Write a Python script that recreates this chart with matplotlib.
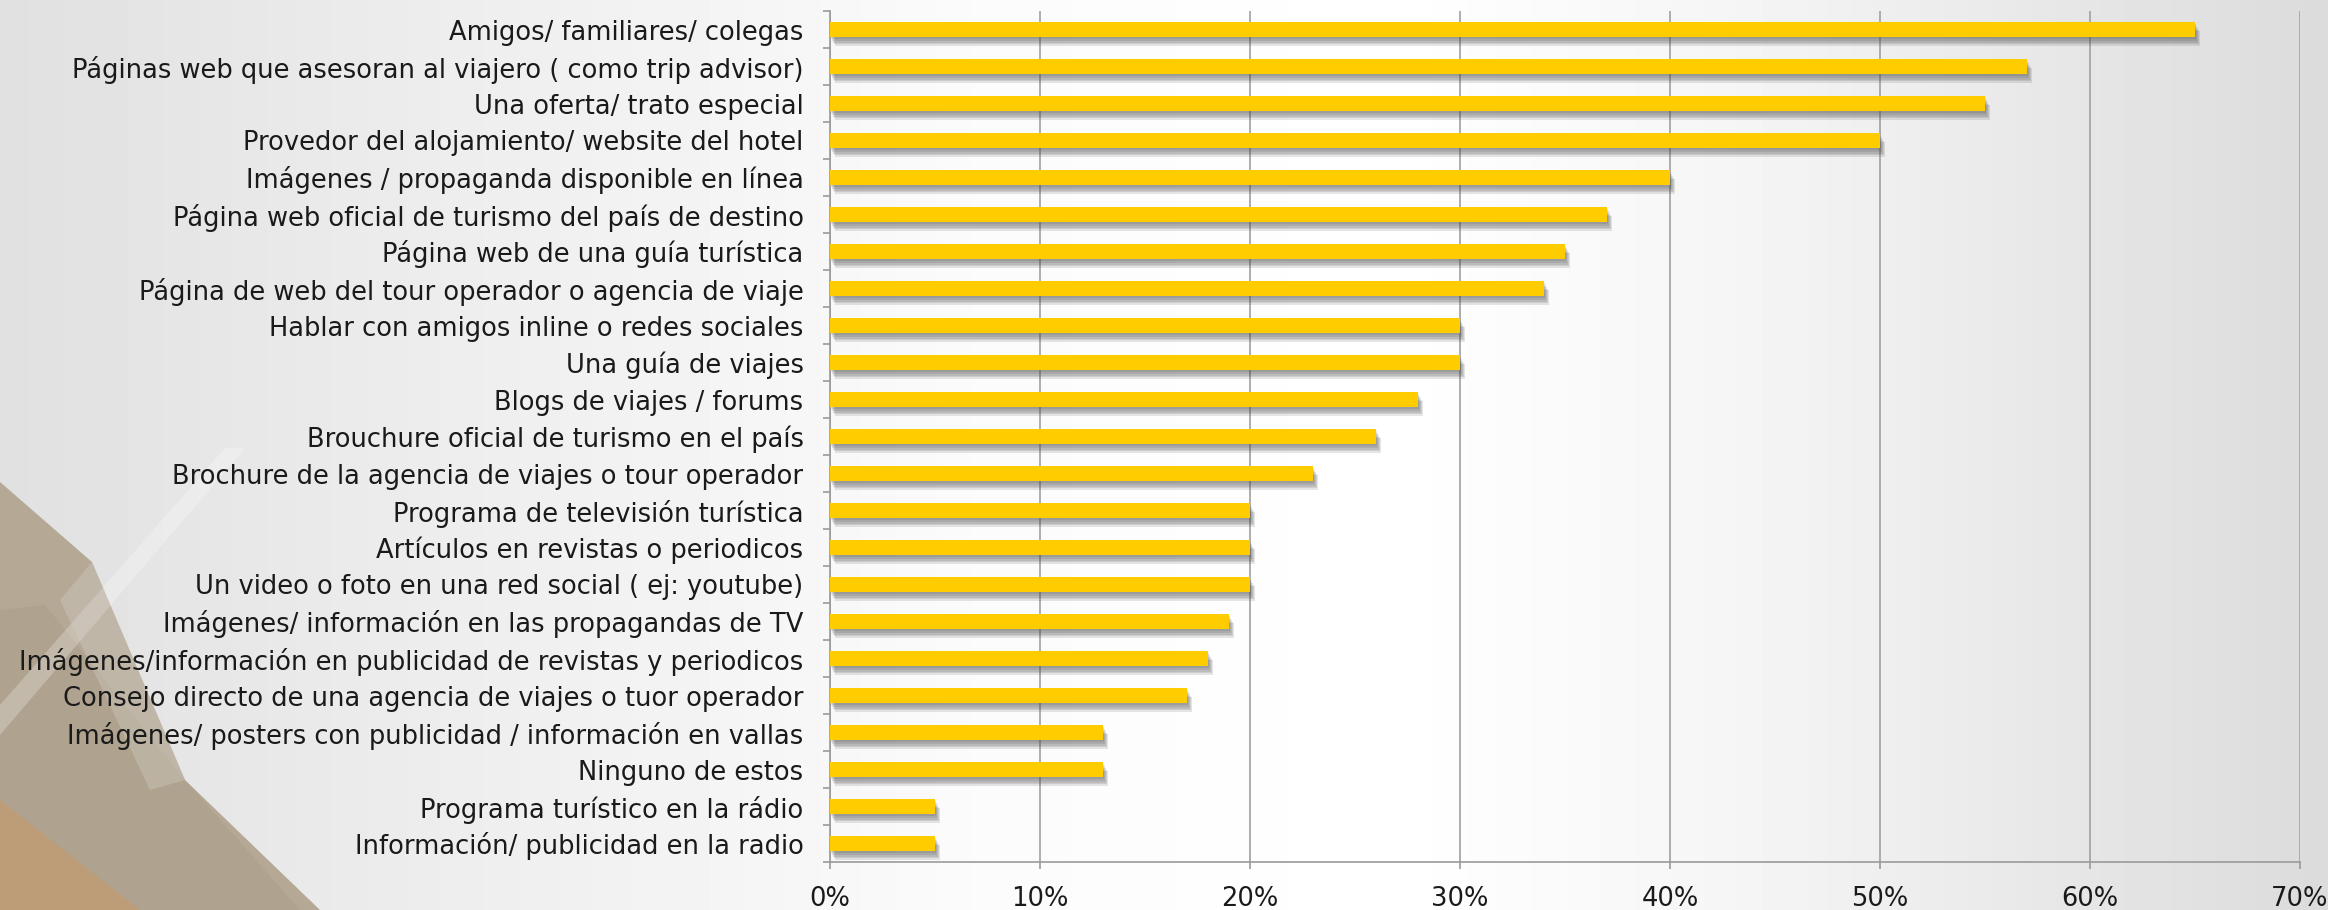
import numpy as np
import matplotlib
matplotlib.use("Agg")
import matplotlib.pyplot as plt
from matplotlib import patheffects as pe
from matplotlib.patches import Polygon
from matplotlib.ticker import FixedLocator, PercentFormatter

plt.rcParams['font.family'] = ['DejaVu Sans']

# fuentes de información, de arriba hacia abajo
categorias = [
    "Amigos/ familiares/ colegas",
    "Páginas web que asesoran al viajero ( como trip advisor)",
    "Una oferta/ trato especial",
    "Provedor del alojamiento/ website del hotel",
    "Imágenes / propaganda disponible en línea",
    "Página web oficial de turismo del país de destino",
    "Página web de una guía turística",
    "Página de web del tour operador o agencia de viaje",
    "Hablar con amigos inline o redes sociales",
    "Una guía de viajes",
    "Blogs de viajes / forums",
    "Brouchure oficial de turismo en el país",
    "Brochure de la agencia de viajes o tour operador",
    "Programa de televisión turística",
    "Artículos en revistas o periodicos",
    "Un video o foto en una red social ( ej: youtube)",
    "Imágenes/ información en las propagandas de TV",
    "Imágenes/información en publicidad de revistas y periodicos",
    "Consejo directo de una agencia de viajes o tuor operador",
    "Imágenes/ posters con publicidad / información en vallas",
    "Ninguno de estos",
    "Programa turístico en la rádio",
    "Información/ publicidad en la radio",
]
porcentajes = [65, 57, 55, 50, 40, 37, 35, 34, 30, 30, 28, 26, 23,
               20, 20, 20, 19, 18, 17, 13, 13, 5, 5]

W, H = 2328, 910
fig = plt.figure(figsize=(W / 100, H / 100), dpi=100)

# fondo: degradado gris -> blanco -> gris
bg = fig.add_axes([0, 0, 1, 1])
bg.set_xlim(0, W)
bg.set_ylim(H, 0)
bg.axis('off')
xs = np.linspace(0, 1, 400)
lvl = np.interp(xs, [0, 0.15, 0.42, 0.6, 0.75, 1.0],
                [0.88, 0.92, 0.985, 1.0, 0.96, 0.86])
bg.imshow(np.tile(lvl, (10, 1)), cmap='gray', vmin=0, vmax=1,
          extent=[0, W, H, 0], aspect='auto', zorder=0)

# formas decorativas en la esquina inferior izquierda
formas = [
    ([(0, 482), (92, 562), (185, 780), (320, 910), (0, 910)], '#b3a692', 0.95),
    ([(0, 610), (45, 605), (185, 780), (300, 910), (0, 910)], '#a89a86', 0.45),
    ([(0, 800), (0, 910), (140, 910)], '#c99a62', 0.5),
    ([(0, 705), (225, 448), (245, 448), (0, 735)], '#ffffff', 0.25),
    ([(92, 562), (185, 780), (150, 790), (60, 600)], '#d2cbc2', 0.4),
]
for pts, col, a in formas:
    bg.add_patch(Polygon(pts, closed=True, facecolor=col, edgecolor='none',
                         alpha=a, zorder=1))

ax = fig.add_axes([830 / W, 1 - 862 / H, (2300 - 830) / W, (862 - 11) / H])
ax.patch.set_alpha(0)

n = len(categorias)
y = np.arange(n)
# sombra difusa bajo cada barra
sombra = [pe.SimplePatchShadow(offset=(1.0 + 0.6 * k, -1.5 - 1.3 * k),
                               shadow_rgbFace='#4a4a4a', alpha=0.14)
          for k in range(5)]
ax.barh(y, porcentajes, height=0.4, color='#ffcc00', zorder=3,
        path_effects=sombra + [pe.Normal()])

ax.set_ylim(n - 0.5, -0.5)
ax.set_xlim(0, 70)
ax.set_yticks(y)
ax.set_yticklabels(categorias)
ax.yaxis.set_minor_locator(FixedLocator(np.arange(n + 1) - 0.5))
ax.tick_params(axis='y', which='major', length=0, pad=19,
               labelsize=18.5, labelcolor='#1a1a1a')
ax.tick_params(axis='y', which='minor', length=5, width=1.2, color='#9a9a9a')

ax.set_xticks(np.arange(0, 71, 10))
ax.xaxis.set_major_formatter(PercentFormatter(decimals=0))
ax.tick_params(axis='x', length=5, width=1.2, color='#9a9a9a', pad=12,
               labelsize=18.5, labelcolor='#1a1a1a')
ax.grid(axis='x', color='#a0a0a0', linewidth=1.2, zorder=1)
ax.set_axisbelow(True)

for s in ['top', 'right']:
    ax.spines[s].set_visible(False)
for s in ['left', 'bottom']:
    ax.spines[s].set_color('#9a9a9a')
    ax.spines[s].set_linewidth(1.2)

fig.savefig('out.png', dpi=100)
